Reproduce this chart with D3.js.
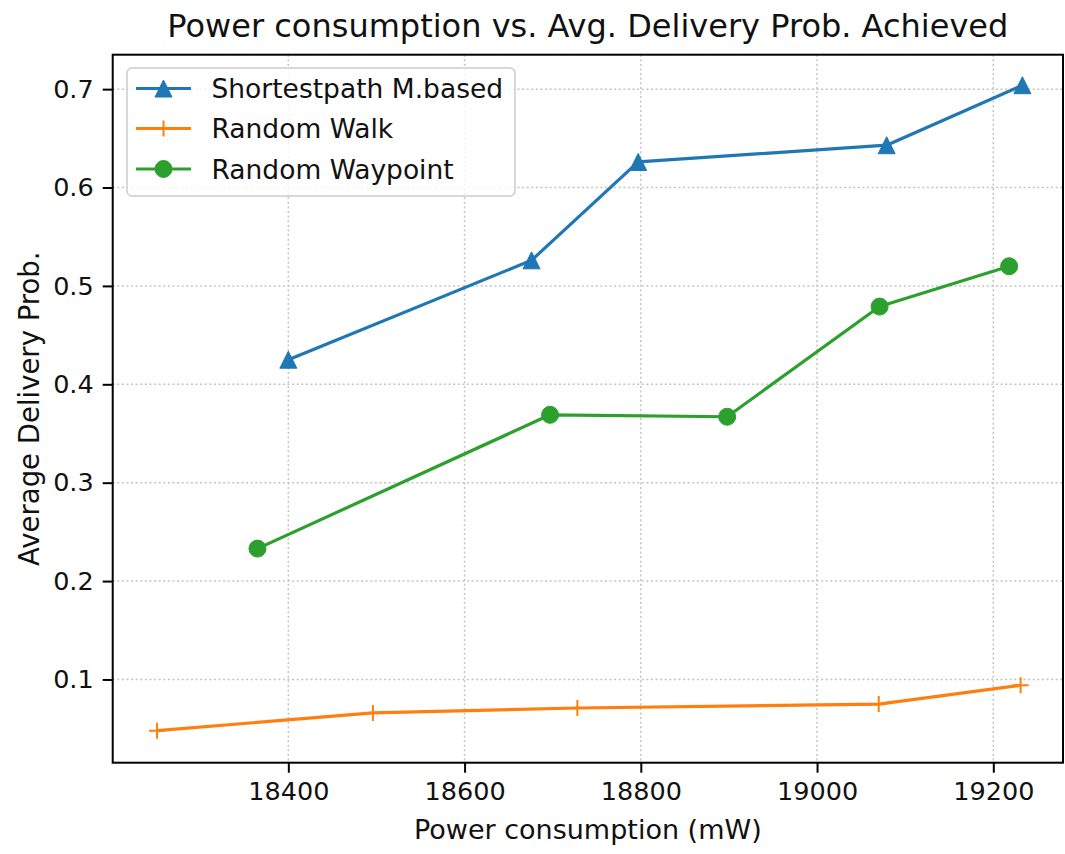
<!DOCTYPE html>
<html>
<head>
<meta charset="utf-8">
<script src="https://cdn.jsdelivr.net/npm/d3@7"></script>
<style>
  html, body { margin: 0; padding: 0; background: #fff; }
  svg { display: block; font-family: "DejaVu Sans", sans-serif; }
</style>
</head>
<body>
<svg id="chart" width="1065" height="854"></svg>
<script>
// ---- data ----
const seriesNames = ["Shortestpath M.based", "Random Walk", "Random Waypoint"];
const xShortest = [18400, 18676, 18797, 19079, 19233];
const yShortest = [0.425, 0.526, 0.626, 0.643, 0.704];
const xWalk = [18251, 18496, 18728, 19070, 19231];
const yWalk = [0.048, 0.066, 0.071, 0.075, 0.094];
const xWaypoint = [18365, 18697, 18898, 19071, 19218];
const yWaypoint = [0.233, 0.369, 0.367, 0.479, 0.520];
const xTicks = [18400, 18600, 18800, 19000, 19200];
const yTicks = [0.1, 0.2, 0.3, 0.4, 0.5, 0.6, 0.7];
const titleText = "Power consumption vs. Avg. Delivery Prob. Achieved";
const xLabel = "Power consumption (mW)";
const yLabel = "Average Delivery Prob.";

// ---- layout ----
const W = 1065, H = 854;
const L = 112.7, R = 1063, T = 54.7, B = 762.7;
const colors = ["#1f77b4", "#ff7f0e", "#2ca02c"];
const markers = ["triangle", "plus", "circle"];

const svg = d3.select("#chart");
const x = d3.scaleLinear().domain([18200.7, 19279.1]).range([L, R]);
const y = d3.scaleLinear().domain([0.0154, 0.735]).range([B, T]);

// grid
const grid = svg.append("g");
grid.selectAll("line.vg").data(xTicks).join("line")
  .attr("x1", d => x(d)).attr("x2", d => x(d)).attr("y1", T).attr("y2", B)
  .attr("stroke", "#c4c4c4").attr("stroke-width", 1.5).attr("stroke-dasharray", "2,2.6");
grid.selectAll("line.hg").data(yTicks).join("line")
  .attr("y1", d => y(d)).attr("y2", d => y(d)).attr("x1", L).attr("x2", R)
  .attr("stroke", "#c4c4c4").attr("stroke-width", 1.5).attr("stroke-dasharray", "2,2.6");

// axes
const xAxis = svg.append("g").attr("transform", `translate(0,${B})`)
  .call(d3.axisBottom(x).tickValues(xTicks).tickFormat(d3.format("d")).tickSize(10).tickPadding(9).tickSizeOuter(0));
const yAxis = svg.append("g").attr("transform", `translate(${L},0)`)
  .call(d3.axisLeft(y).tickValues(yTicks).tickFormat(d3.format(".1f")).tickSize(10).tickPadding(9).tickSizeOuter(0));
[xAxis, yAxis].forEach(a => {
  a.select(".domain").remove();
  a.selectAll(".tick line").attr("stroke", "#000").attr("stroke-width", 2);
  a.selectAll(".tick text").attr("font-family", "DejaVu Sans").attr("font-size", 25.5).attr("fill", "#111");
});

// series
const series = [
  {xs: xShortest, ys: yShortest},
  {xs: xWalk, ys: yWalk},
  {xs: xWaypoint, ys: yWaypoint}
];
const line = d3.line().x(d => x(d[0])).y(d => y(d[1]));

function drawMarker(g, type, color, cx, cy) {
  if (type === "triangle") {
    const s = 8.5;
    g.append("path").attr("d", `M${cx},${cy - s}L${cx - s},${cy + s}L${cx + s},${cy + s}Z`)
      .attr("fill", color).attr("stroke", color).attr("stroke-width", 1);
  } else if (type === "circle") {
    g.append("circle").attr("cx", cx).attr("cy", cy).attr("r", 8.5)
      .attr("fill", color).attr("stroke", color).attr("stroke-width", 1);
  } else {
    const s = 8;
    g.append("path").attr("d", `M${cx - s},${cy}H${cx + s}M${cx},${cy - s}V${cy + s}`)
      .attr("stroke", color).attr("stroke-width", 2).attr("fill", "none");
  }
}

series.forEach((s, i) => {
  const pts = s.xs.map((v, j) => [v, s.ys[j]]);
  const g = svg.append("g");
  g.append("path").datum(pts).attr("d", line)
    .attr("fill", "none").attr("stroke", colors[i]).attr("stroke-width", 3.2).attr("stroke-linejoin", "round");
  pts.forEach(p => drawMarker(g, markers[i], colors[i], x(p[0]), y(p[1])));
});

// frame
svg.append("rect").attr("x", L).attr("y", T).attr("width", R - L).attr("height", B - T)
  .attr("fill", "none").attr("stroke", "#000").attr("stroke-width", 2);

// legend
const lg = svg.append("g");
lg.append("rect").attr("x", 127).attr("y", 68).attr("width", 388).attr("height", 128)
  .attr("rx", 5).attr("fill", "#fff").attr("fill-opacity", 0.8).attr("stroke", "#cccccc").attr("stroke-width", 1.5);
const rowY = [88.5, 128.5, 169];
seriesNames.forEach((name, i) => {
  lg.append("line").attr("x1", 136).attr("x2", 191).attr("y1", rowY[i]).attr("y2", rowY[i])
    .attr("stroke", colors[i]).attr("stroke-width", 3.2);
  drawMarker(lg, markers[i], colors[i], 163.5, rowY[i]);
  lg.append("text").attr("x", 211.5).attr("y", rowY[i]).attr("dy", "0.36em")
    .attr("font-size", 26.5).attr("fill", "#111").text(name);
});

// title and labels
svg.append("text").attr("x", (L + R) / 2).attr("y", 37).attr("text-anchor", "middle")
  .attr("font-size", 32).attr("fill", "#111").text(titleText);
svg.append("text").attr("x", (L + R) / 2).attr("y", 839).attr("text-anchor", "middle")
  .attr("font-size", 27).attr("fill", "#111").text(xLabel);
svg.append("text").attr("transform", `translate(39,${(T + B) / 2}) rotate(-90)`).attr("text-anchor", "middle")
  .attr("font-size", 27.5).attr("fill", "#111").text(yLabel);
</script>
</body>
</html>
